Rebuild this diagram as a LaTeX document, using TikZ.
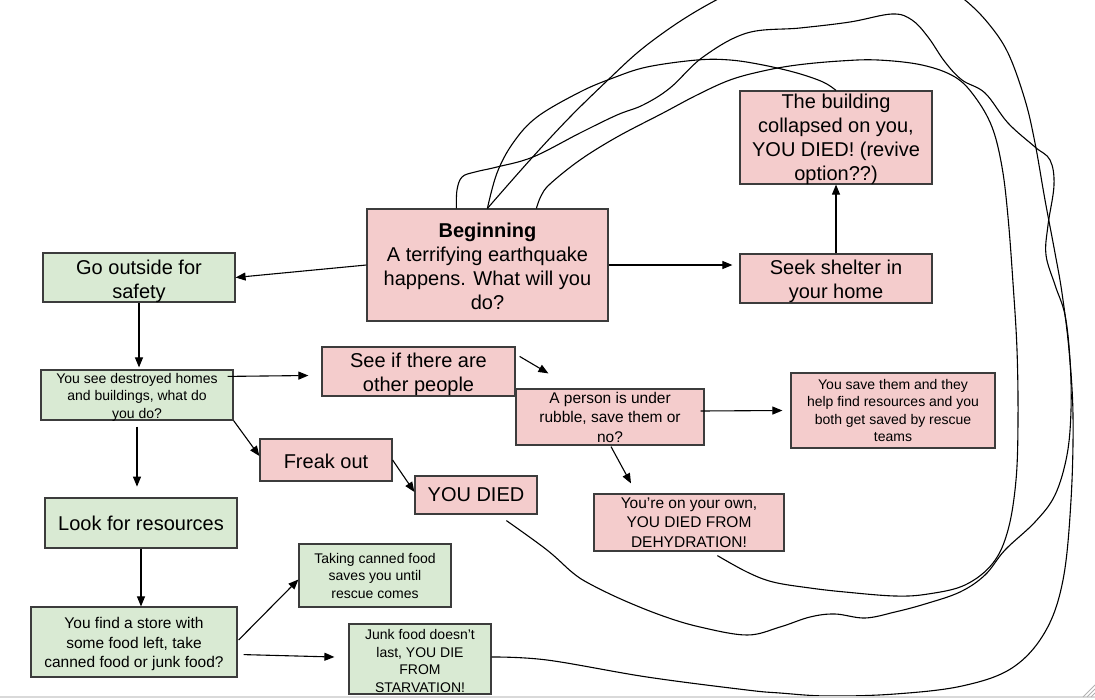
\documentclass[tikz,border=0pt]{standalone}
\usepackage{fontspec}
\setmainfont{Liberation Sans}
\usetikzlibrary{arrows.meta,calc}
\definecolor{pinkfill}{HTML}{F4CCCC}
\definecolor{greenfill}{HTML}{D9EAD3}
\definecolor{boxline}{HTML}{3C3C3C}
\begin{document}
\begin{tikzpicture}[x=1pt,y=-1pt,
  box/.style={draw=boxline, line width=1.2pt, inner sep=0pt},
  pinkbox/.style={box, fill=pinkfill},
  greenbox/.style={box, fill=greenfill},
  txt/.style={inner sep=0pt, align=center, text=black},
  big/.style={txt, font=\fontsize{20}{24}\selectfont},
  mid/.style={txt, font=\fontsize{15.5}{19.5}\selectfont},
  small/.style={txt, font=\fontsize{14}{17.5}\selectfont},
  arr/.style={draw=black, line width=1.1pt, -{Triangle[length=10pt,width=8pt]}},
  loopline/.style={draw=black, line width=1.1pt},
]
\useasboundingbox (0,0) rectangle (1095,699);
\fill[white] (0,0) rectangle (1095,699);
\fill[gray!30] (0,695.5) rectangle (1095,698);
\draw[gray!60, line width=0.8pt] (1083,697) -- (1095,685) (1087,697) -- (1095,689) (1091,697) -- (1095,693);

% boxes
\node[pinkbox, minimum width=241pt, minimum height=112pt] (beg) at (487.5,265) {};
\node[greenbox, minimum width=192pt, minimum height=49pt] (go) at (139,277.5) {};
\node[pinkbox, minimum width=192pt, minimum height=49pt] (seek) at (836,278.5) {};
\node[pinkbox, minimum width=192pt, minimum height=93pt] (build) at (836,137.5) {};
\node[greenbox, minimum width=192pt, minimum height=50pt] (see1) at (137,395) {};
\node[pinkbox, minimum width=193pt, minimum height=49pt] (seeif) at (418.5,371.5) {};
\node[pinkbox, minimum width=188pt, minimum height=56pt] (person) at (610,417) {};
\node[pinkbox, minimum width=204pt, minimum height=75pt] (save) at (893,410.5) {};
\node[pinkbox, minimum width=132pt, minimum height=42pt] (freak) at (326,460) {};
\node[pinkbox, minimum width=122pt, minimum height=38pt] (died) at (476,495) {};
\node[pinkbox, minimum width=190pt, minimum height=57pt] (dehyd) at (689,522.5) {};
\node[greenbox, minimum width=192pt, minimum height=50pt] (look) at (141,523) {};
\node[greenbox, minimum width=206pt, minimum height=70pt] (find) at (134,642) {};
\node[greenbox, minimum width=152pt, minimum height=63pt] (take) at (375,575.5) {};
\node[greenbox, minimum width=142pt, minimum height=70pt] (junk) at (420,659) {};

% texts
\node[big] (begT) at ($(beg.center)+(0,1.5)$)
  {\textbf{Beginning}\\A terrifying earthquake\\happens. What will you\\do?};
\node[big] (goT) at ($(go.center)+(0,4)$) {Go outside for\\safety};
\node[big] (seekT) at ($(seek.center)+(0,3)$) {Seek shelter in\\your home};
\node[big] (buildT) at ($(build.center)+(0,2)$)
  {The building\\collapsed on you,\\YOU DIED! (revive\\option??)};
\node[small] (see1T) at ($(see1.center)+(0,2)$)
  {You see destroyed homes\\and buildings, what do\\you do?};
\node[big] (seeifT) at ($(seeif.center)+(0,3)$) {See if there are\\other people};
\node[mid] (personT) at (person.center) {A person is under\\rubble, save them or\\no?};
\node[small] (saveT) at (save.center)
  {You save them and they\\help find resources and you\\both get saved by rescue\\teams};
\node[big] (freakT) at ($(freak.center)+(0,1)$) {Freak out};
\node[big] (diedT) at (died.center) {YOU DIED};
\node[mid] (dehydT) at (dehyd.center) {You’re on your own,\\YOU DIED FROM\\DEHYDRATION!};
\node[big] (lookT) at (look.center) {Look for resources};
\node[mid] (findT) at ($(find.center)+(0,2)$)
  {You find a store with\\some food left, take\\canned food or junk food?};
\node[small] (takeT) at (take.center) {Taking canned food\\saves you until\\rescue comes};
\node[small] (junkT) at ($(junk.center)+(0,2)$) {Junk food doesn’t\\last, YOU DIE\\FROM\\STARVATION!};

% arrows
\draw[arr] (beg.west) -- (go.east);
\draw[arr, shorten >=7pt] (beg.east) -- (beg.east -| seek.west);
\draw[arr] (seek.north) -- (build.south);
\draw[arr, shorten >=2pt] (go.south) -- (go.south |- see1.north);
\draw[arr] ($(see1.north east)+(-6,7)$) -- ($(seeif.west)+(-13,4)$);
\draw[arr] ($(seeif.north east)+(4,10)$) -- ($(person.north west)+(33,-15)$);
\draw[arr] ($(see1.south)+(0,6)$) -- ($(see1.south)+(0,66)$);
\draw[arr] (see1.south east) -- ($(freak.west)+(0,-4)$);
\draw[arr] (freak.east) -- ($(died.west)+(0,-3)$);
\draw[arr] ($(person.east)+(-4,-6)$) -- ($(save.west)+(-8,0)$);
\draw[arr] ($(person.south)+(1,1)$) -- ($(dehyd.north)+(-58,-10)$);
\draw[arr] (look.south) -- (look.south |- find.north);
\draw[arr] ($(find.east)+(1,-2)$) -- ($(take.west)+(0,4)$);
\draw[arr] ($(find.south east)+(6,-23)$) -- ($(junk.west)+(-14,-2)$);

% loop-back curves
\coordinate (c0s) at ($(beg.north west)+(121,0)$);
\coordinate (c0e) at (build.north);
\coordinate (c1s) at ($(beg.north west)+(90,0)$);
\coordinate (c1e) at ($(died.south west)+(92,6)$);
\coordinate (c2s) at ($(beg.north west)+(170,0)$);
\coordinate (c2e) at ($(dehyd.south west)+(124,4)$);
\coordinate (c3s) at ($(beg.north west)+(121,0)$);
\coordinate (c3e) at ($(junk.east)+(0,-2)$);

\begin{scope}
\clip (0,0) rectangle (1095,695);
\draw[loopline] plot[smooth, tension=0.6] coordinates {(c0s) (497,173) (513,143) (537,117) (580,92) (613,78) (647,67) (697,60) (730,60) (763,65) (797,73) (823,82) (c0e)};
\draw[loopline] plot[smooth, tension=0.6] coordinates {(c1s) (457,190) (462,177) (475,172) (497,167) (533,157) (580,133) (617,115) (643,105) (670,88) (703,57) (747,33) (800,28) (850,22) (892,14) (912,20) (928,37) (945,62) (962,80) (985,93) (1008,123) (1035,147) (1050,160) (1054,185) (1048,225) (1046,255) (1055,285) (1065,315) (1070,360) (1071,410) (1067,455) (1055,495) (1035,522) (1005,550) (985,575) (960,592) (925,604) (895,612) (865,618) (835,614) (810,617) (780,627) (747,635) (700,627) (663,616) (623,600) (590,584) (573,573) (547,550) (c1e)};
\draw[loopline] plot[smooth, tension=0.6] coordinates {(c2s) (541,196) (550,184) (580,160) (617,137) (663,113) (697,95) (730,80) (763,71) (797,65) (840,61) (878,60) (922,65) (955,77) (975,97) (992,127) (1002,167) (1008,217) (1013,283) (1017,350) (1018,420) (1016,480) (1008,530) (993,563) (965,585) (928,594) (895,596) (845,592) (810,588) (773,582) (747,572) (c2e)};
\draw[loopline] plot[smooth, tension=0.6] coordinates {(c3s) (530,160) (570,117) (610,78) (637,53) (663,33) (690,15) (720,-2) (760,-22) (805,-38) (850,-44) (900,-35) (940,-17) (965,0) (988,23) (1008,53) (1025,100) (1035,143) (1045,200) (1055,253) (1062,293) (1069,350) (1073,416) (1071,500) (1063,580) (1045,632) (1012,668) (962,686) (895,694) (828,696) (780,693) (747,690) (647,677) (547,660) (c3e)};
\end{scope}
\end{tikzpicture}
\end{document}
